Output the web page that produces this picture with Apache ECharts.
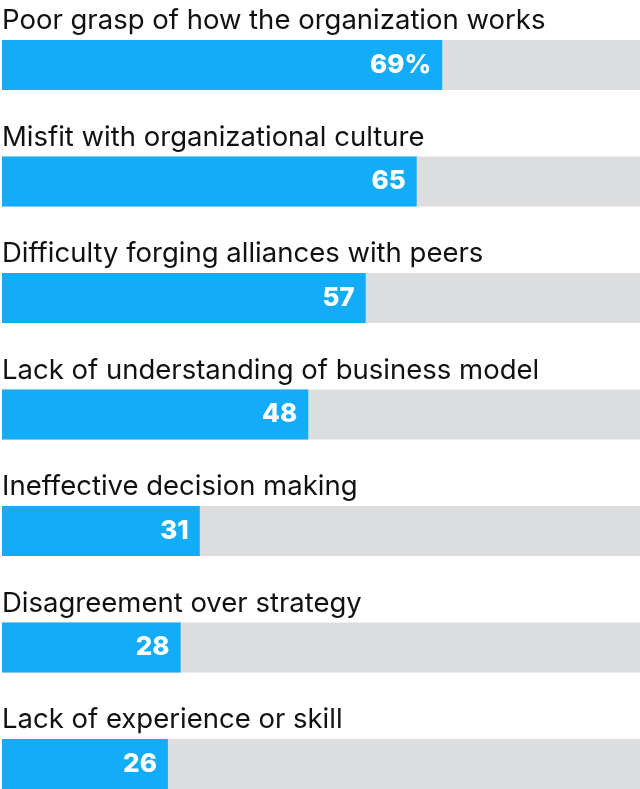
<!DOCTYPE html>
<html><head><meta charset="utf-8">
<script src="https://cdn.jsdelivr.net/npm/echarts@6/dist/echarts.min.js"></script>
<style>html,body{margin:0;padding:0;background:#fff}#c{width:640px;height:789px}</style>
</head><body><div id="c"></div>
<script>
const categories = [
  "Poor grasp of how the organization works",
  "Misfit with organizational culture",
  "Difficulty forging alliances with peers",
  "Lack of understanding of business model",
  "Ineffective decision making",
  "Disagreement over strategy",
  "Lack of experience or skill"
];
const values = [69, 65, 57, 48, 31, 28, 26];
const fullScale = categories.map(() => 100);

const chart = echarts.init(document.getElementById('c'), null, {renderer: 'canvas'});
chart.setOption({
  animation: false,
  grid: {left: 2, right: 0, top: 65, bottom: 25},
  xAxis: {type: 'value', min: 0, max: 100, show: false},
  yAxis: {type: 'category', data: categories, inverse: true, show: false, boundaryGap: false},
  series: [
    {
      type: 'bar', data: fullScale, barWidth: 50, barGap: '-100%', silent: true,
      itemStyle: {color: '#DCDDDF'},
      label: {
        show: true, position: [0, -5], align: 'left', verticalAlign: 'bottom',
        formatter: p => categories[p.dataIndex],
        color: '#111', fontSize: 27.5, fontFamily: 'Inter'
      },
      z: 1
    },
    {
      type: 'bar', data: values, barWidth: 50, silent: true,
      itemStyle: {color: '#12ACF8'},
      label: {
        show: true, position: 'insideRight', distance: 11,
        formatter: p => p.dataIndex === 0 ? p.value + '%' : String(p.value),
        color: '#fff', fontSize: 26, fontWeight: 800, fontFamily: 'Inter'
      },
      z: 2
    }
  ]
});
</script></body></html>
